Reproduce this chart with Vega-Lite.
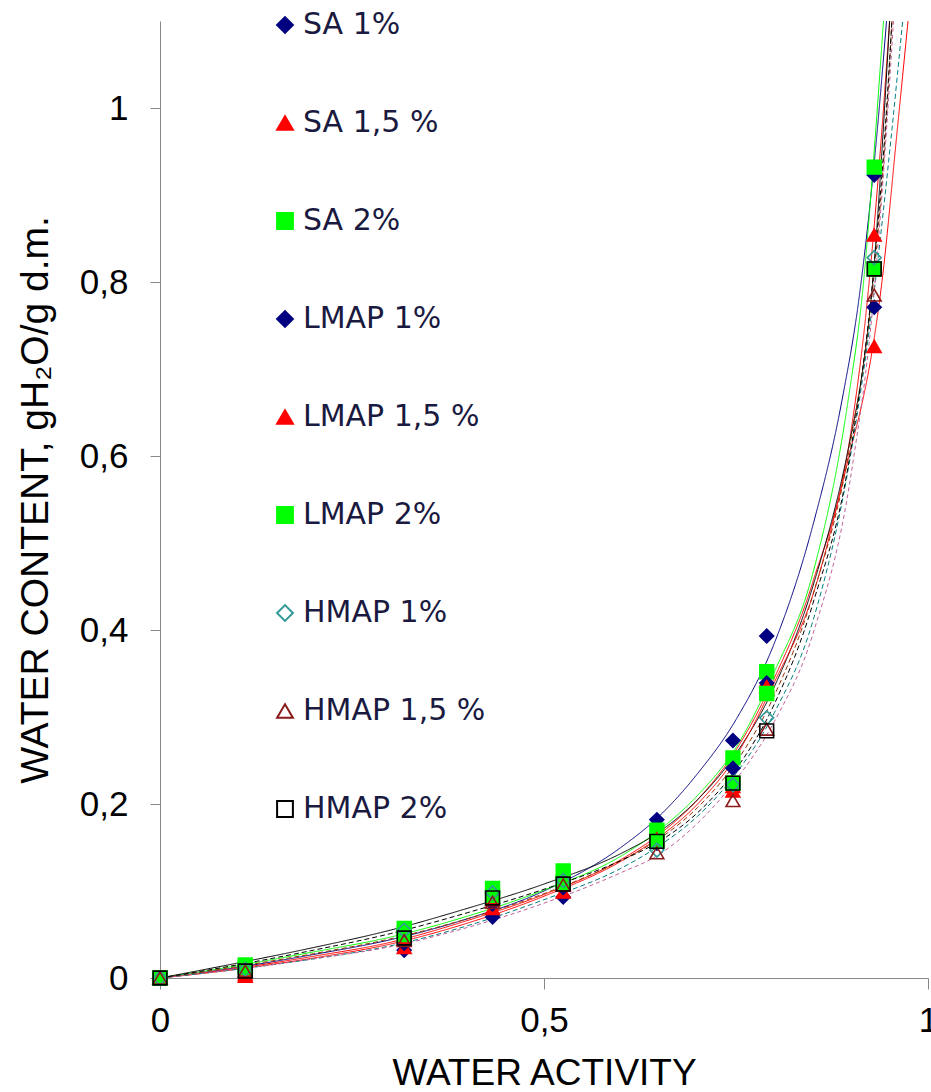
{
  "$schema": "https://vega.github.io/schema/vega-lite/v6.json",
  "width": 768,
  "height": 957,
  "autosize": {"type": "none"},
  "padding": {"left": 160, "top": 21, "right": 3, "bottom": 114},
  "background": "white",
  "config": {
    "view": {"stroke": null},
    "axis": {
      "grid": false,
      "domainColor": "#888888",
      "tickColor": "#888888",
      "labelFont": "Liberation Sans",
      "labelColor": "#000000",
      "titleFont": "Liberation Sans",
      "titleColor": "#000000",
      "titleFontWeight": "normal",
      "labelOverlap": false,
      "labelBound": false,
      "labelFlush": false
    },
    "legend": {
      "labelFont": "DejaVu Sans", "labelFontSize": 30, "labelColor": "#1a1a40",
      "rowPadding": 68, "symbolSize": 250, "symbolStrokeWidth": 2,
      "labelOffset": 3, "padding": 0, "labelLimit": 400
    }
  },
  "datasets": {
    "points": [
      {"series": "SA 1%", "aw": 0, "wc": 0},
      {"series": "SA 1%", "aw": 0.111, "wc": 0.008},
      {"series": "SA 1%", "aw": 0.318, "wc": 0.032},
      {"series": "SA 1%", "aw": 0.433, "wc": 0.070},
      {"series": "SA 1%", "aw": 0.525, "wc": 0.093},
      {"series": "SA 1%", "aw": 0.647, "wc": 0.182},
      {"series": "SA 1%", "aw": 0.746, "wc": 0.273},
      {"series": "SA 1%", "aw": 0.79, "wc": 0.393},
      {"series": "SA 1%", "aw": 0.93, "wc": 0.923},
      {"series": "SA 1,5 %", "aw": 0, "wc": 0},
      {"series": "SA 1,5 %", "aw": 0.111, "wc": 0.002},
      {"series": "SA 1,5 %", "aw": 0.318, "wc": 0.035},
      {"series": "SA 1,5 %", "aw": 0.433, "wc": 0.080},
      {"series": "SA 1,5 %", "aw": 0.525, "wc": 0.099},
      {"series": "SA 1,5 %", "aw": 0.647, "wc": 0.168},
      {"series": "SA 1,5 %", "aw": 0.746, "wc": 0.220},
      {"series": "SA 1,5 %", "aw": 0.79, "wc": 0.342},
      {"series": "SA 1,5 %", "aw": 0.93, "wc": 0.854},
      {"series": "SA 2%", "aw": 0, "wc": 0},
      {"series": "SA 2%", "aw": 0.111, "wc": 0.015},
      {"series": "SA 2%", "aw": 0.318, "wc": 0.057},
      {"series": "SA 2%", "aw": 0.433, "wc": 0.103},
      {"series": "SA 2%", "aw": 0.525, "wc": 0.123},
      {"series": "SA 2%", "aw": 0.647, "wc": 0.170},
      {"series": "SA 2%", "aw": 0.746, "wc": 0.253},
      {"series": "SA 2%", "aw": 0.79, "wc": 0.352},
      {"series": "SA 2%", "aw": 0.93, "wc": 0.932},
      {"series": "LMAP 1%", "aw": 0, "wc": 0},
      {"series": "LMAP 1%", "aw": 0.111, "wc": 0.006},
      {"series": "LMAP 1%", "aw": 0.318, "wc": 0.040},
      {"series": "LMAP 1%", "aw": 0.433, "wc": 0.085},
      {"series": "LMAP 1%", "aw": 0.525, "wc": 0.104},
      {"series": "LMAP 1%", "aw": 0.647, "wc": 0.155},
      {"series": "LMAP 1%", "aw": 0.746, "wc": 0.241},
      {"series": "LMAP 1%", "aw": 0.79, "wc": 0.339},
      {"series": "LMAP 1%", "aw": 0.93, "wc": 0.771},
      {"series": "LMAP 1,5 %", "aw": 0, "wc": 0},
      {"series": "LMAP 1,5 %", "aw": 0.111, "wc": 0.004},
      {"series": "LMAP 1,5 %", "aw": 0.318, "wc": 0.045},
      {"series": "LMAP 1,5 %", "aw": 0.433, "wc": 0.090},
      {"series": "LMAP 1,5 %", "aw": 0.525, "wc": 0.108},
      {"series": "LMAP 1,5 %", "aw": 0.647, "wc": 0.160},
      {"series": "LMAP 1,5 %", "aw": 0.746, "wc": 0.215},
      {"series": "LMAP 1,5 %", "aw": 0.79, "wc": 0.335},
      {"series": "LMAP 1,5 %", "aw": 0.93, "wc": 0.726},
      {"series": "LMAP 2%", "aw": 0, "wc": 0},
      {"series": "LMAP 2%", "aw": 0.111, "wc": 0.012},
      {"series": "LMAP 2%", "aw": 0.318, "wc": 0.050},
      {"series": "LMAP 2%", "aw": 0.433, "wc": 0.095},
      {"series": "LMAP 2%", "aw": 0.525, "wc": 0.110},
      {"series": "LMAP 2%", "aw": 0.647, "wc": 0.157},
      {"series": "LMAP 2%", "aw": 0.746, "wc": 0.224},
      {"series": "LMAP 2%", "aw": 0.79, "wc": 0.327},
      {"series": "LMAP 2%", "aw": 0.93, "wc": 0.815},
      {"series": "HMAP 1%", "aw": 0, "wc": 0},
      {"series": "HMAP 1%", "aw": 0.111, "wc": 0.010},
      {"series": "HMAP 1%", "aw": 0.318, "wc": 0.055},
      {"series": "HMAP 1%", "aw": 0.433, "wc": 0.098},
      {"series": "HMAP 1%", "aw": 0.525, "wc": 0.112},
      {"series": "HMAP 1%", "aw": 0.647, "wc": 0.147},
      {"series": "HMAP 1%", "aw": 0.746, "wc": 0.222},
      {"series": "HMAP 1%", "aw": 0.79, "wc": 0.299},
      {"series": "HMAP 1%", "aw": 0.93, "wc": 0.828},
      {"series": "HMAP 1,5 %", "aw": 0, "wc": 0},
      {"series": "HMAP 1,5 %", "aw": 0.111, "wc": 0.008},
      {"series": "HMAP 1,5 %", "aw": 0.318, "wc": 0.043},
      {"series": "HMAP 1,5 %", "aw": 0.433, "wc": 0.087},
      {"series": "HMAP 1,5 %", "aw": 0.525, "wc": 0.107},
      {"series": "HMAP 1,5 %", "aw": 0.647, "wc": 0.144},
      {"series": "HMAP 1,5 %", "aw": 0.746, "wc": 0.204},
      {"series": "HMAP 1,5 %", "aw": 0.79, "wc": 0.286},
      {"series": "HMAP 1,5 %", "aw": 0.93, "wc": 0.785},
      {"series": "HMAP 2%", "aw": 0, "wc": 0},
      {"series": "HMAP 2%", "aw": 0.111, "wc": 0.008},
      {"series": "HMAP 2%", "aw": 0.318, "wc": 0.046},
      {"series": "HMAP 2%", "aw": 0.433, "wc": 0.092},
      {"series": "HMAP 2%", "aw": 0.525, "wc": 0.108},
      {"series": "HMAP 2%", "aw": 0.647, "wc": 0.157},
      {"series": "HMAP 2%", "aw": 0.746, "wc": 0.224},
      {"series": "HMAP 2%", "aw": 0.79, "wc": 0.284},
      {"series": "HMAP 2%", "aw": 0.93, "wc": 0.815}
    ],
    "curves": [
      {"curve": "fit SA 1%", "aw": 0, "wc": 0},
      {"curve": "fit SA 1%", "aw": 0.1, "wc": 0.012},
      {"curve": "fit SA 1%", "aw": 0.2, "wc": 0.027},
      {"curve": "fit SA 1%", "aw": 0.3, "wc": 0.044},
      {"curve": "fit SA 1%", "aw": 0.4, "wc": 0.068},
      {"curve": "fit SA 1%", "aw": 0.5, "wc": 0.100},
      {"curve": "fit SA 1%", "aw": 0.6, "wc": 0.150},
      {"curve": "fit SA 1%", "aw": 0.65, "wc": 0.186},
      {"curve": "fit SA 1%", "aw": 0.7, "wc": 0.235},
      {"curve": "fit SA 1%", "aw": 0.75, "wc": 0.297},
      {"curve": "fit SA 1%", "aw": 0.8, "wc": 0.385},
      {"curve": "fit SA 1%", "aw": 0.85, "wc": 0.52},
      {"curve": "fit SA 1%", "aw": 0.888, "wc": 0.664},
      {"curve": "fit SA 1%", "aw": 0.91, "wc": 0.78},
      {"curve": "fit SA 1%", "aw": 0.934, "wc": 0.975},
      {"curve": "fit SA 1%", "aw": 0.946, "wc": 1.1},
      {"curve": "fit SA 1,5 %", "aw": 0, "wc": 0},
      {"curve": "fit SA 1,5 %", "aw": 0.1, "wc": 0.011},
      {"curve": "fit SA 1,5 %", "aw": 0.2, "wc": 0.025},
      {"curve": "fit SA 1,5 %", "aw": 0.3, "wc": 0.041},
      {"curve": "fit SA 1,5 %", "aw": 0.4, "wc": 0.066},
      {"curve": "fit SA 1,5 %", "aw": 0.5, "wc": 0.096},
      {"curve": "fit SA 1,5 %", "aw": 0.6, "wc": 0.136},
      {"curve": "fit SA 1,5 %", "aw": 0.65, "wc": 0.165},
      {"curve": "fit SA 1,5 %", "aw": 0.7, "wc": 0.205},
      {"curve": "fit SA 1,5 %", "aw": 0.75, "wc": 0.262},
      {"curve": "fit SA 1,5 %", "aw": 0.8, "wc": 0.345},
      {"curve": "fit SA 1,5 %", "aw": 0.85, "wc": 0.455},
      {"curve": "fit SA 1,5 %", "aw": 0.9, "wc": 0.63},
      {"curve": "fit SA 1,5 %", "aw": 0.92, "wc": 0.77},
      {"curve": "fit SA 1,5 %", "aw": 0.94, "wc": 0.975},
      {"curve": "fit SA 1,5 %", "aw": 0.95, "wc": 1.1},
      {"curve": "fit SA 2%", "aw": 0, "wc": 0},
      {"curve": "fit SA 2%", "aw": 0.1, "wc": 0.014},
      {"curve": "fit SA 2%", "aw": 0.2, "wc": 0.030},
      {"curve": "fit SA 2%", "aw": 0.3, "wc": 0.047},
      {"curve": "fit SA 2%", "aw": 0.4, "wc": 0.071},
      {"curve": "fit SA 2%", "aw": 0.5, "wc": 0.101},
      {"curve": "fit SA 2%", "aw": 0.6, "wc": 0.140},
      {"curve": "fit SA 2%", "aw": 0.65, "wc": 0.170},
      {"curve": "fit SA 2%", "aw": 0.7, "wc": 0.210},
      {"curve": "fit SA 2%", "aw": 0.75, "wc": 0.265},
      {"curve": "fit SA 2%", "aw": 0.8, "wc": 0.352},
      {"curve": "fit SA 2%", "aw": 0.85, "wc": 0.465},
      {"curve": "fit SA 2%", "aw": 0.896, "wc": 0.664},
      {"curve": "fit SA 2%", "aw": 0.915, "wc": 0.79},
      {"curve": "fit SA 2%", "aw": 0.932, "wc": 0.975},
      {"curve": "fit SA 2%", "aw": 0.942, "wc": 1.1},
      {"curve": "fit LMAP 1%", "aw": 0, "wc": 0},
      {"curve": "fit LMAP 1%", "aw": 0.1, "wc": 0.017},
      {"curve": "fit LMAP 1%", "aw": 0.2, "wc": 0.035},
      {"curve": "fit LMAP 1%", "aw": 0.3, "wc": 0.055},
      {"curve": "fit LMAP 1%", "aw": 0.4, "wc": 0.080},
      {"curve": "fit LMAP 1%", "aw": 0.5, "wc": 0.108},
      {"curve": "fit LMAP 1%", "aw": 0.6, "wc": 0.143},
      {"curve": "fit LMAP 1%", "aw": 0.65, "wc": 0.168},
      {"curve": "fit LMAP 1%", "aw": 0.7, "wc": 0.205},
      {"curve": "fit LMAP 1%", "aw": 0.75, "wc": 0.258},
      {"curve": "fit LMAP 1%", "aw": 0.8, "wc": 0.335},
      {"curve": "fit LMAP 1%", "aw": 0.85, "wc": 0.45},
      {"curve": "fit LMAP 1%", "aw": 0.9, "wc": 0.625},
      {"curve": "fit LMAP 1%", "aw": 0.915, "wc": 0.699},
      {"curve": "fit LMAP 1%", "aw": 0.928, "wc": 0.80},
      {"curve": "fit LMAP 1%", "aw": 0.94, "wc": 0.95},
      {"curve": "fit LMAP 1%", "aw": 0.95, "wc": 1.1},
      {"curve": "fit LMAP 1,5 %", "aw": 0, "wc": 0},
      {"curve": "fit LMAP 1,5 %", "aw": 0.1, "wc": 0.010},
      {"curve": "fit LMAP 1,5 %", "aw": 0.2, "wc": 0.023},
      {"curve": "fit LMAP 1,5 %", "aw": 0.3, "wc": 0.039},
      {"curve": "fit LMAP 1,5 %", "aw": 0.4, "wc": 0.063},
      {"curve": "fit LMAP 1,5 %", "aw": 0.5, "wc": 0.094},
      {"curve": "fit LMAP 1,5 %", "aw": 0.6, "wc": 0.134},
      {"curve": "fit LMAP 1,5 %", "aw": 0.65, "wc": 0.162},
      {"curve": "fit LMAP 1,5 %", "aw": 0.7, "wc": 0.200},
      {"curve": "fit LMAP 1,5 %", "aw": 0.75, "wc": 0.255},
      {"curve": "fit LMAP 1,5 %", "aw": 0.8, "wc": 0.34},
      {"curve": "fit LMAP 1,5 %", "aw": 0.85, "wc": 0.44},
      {"curve": "fit LMAP 1,5 %", "aw": 0.9, "wc": 0.61},
      {"curve": "fit LMAP 1,5 %", "aw": 0.915, "wc": 0.664},
      {"curve": "fit LMAP 1,5 %", "aw": 0.923, "wc": 0.699},
      {"curve": "fit LMAP 1,5 %", "aw": 0.94, "wc": 0.80},
      {"curve": "fit LMAP 1,5 %", "aw": 0.96, "wc": 0.975},
      {"curve": "fit LMAP 1,5 %", "aw": 0.974, "wc": 1.1},
      {"curve": "fit LMAP 2%", "aw": 0, "wc": 0},
      {"curve": "fit LMAP 2%", "aw": 0.1, "wc": 0.013},
      {"curve": "fit LMAP 2%", "aw": 0.2, "wc": 0.028},
      {"curve": "fit LMAP 2%", "aw": 0.3, "wc": 0.045},
      {"curve": "fit LMAP 2%", "aw": 0.4, "wc": 0.068},
      {"curve": "fit LMAP 2%", "aw": 0.5, "wc": 0.097},
      {"curve": "fit LMAP 2%", "aw": 0.6, "wc": 0.135},
      {"curve": "fit LMAP 2%", "aw": 0.65, "wc": 0.160},
      {"curve": "fit LMAP 2%", "aw": 0.7, "wc": 0.196},
      {"curve": "fit LMAP 2%", "aw": 0.75, "wc": 0.248},
      {"curve": "fit LMAP 2%", "aw": 0.8, "wc": 0.325},
      {"curve": "fit LMAP 2%", "aw": 0.85, "wc": 0.44},
      {"curve": "fit LMAP 2%", "aw": 0.9, "wc": 0.62},
      {"curve": "fit LMAP 2%", "aw": 0.93, "wc": 0.81},
      {"curve": "fit LMAP 2%", "aw": 0.945, "wc": 0.975},
      {"curve": "fit LMAP 2%", "aw": 0.953, "wc": 1.1},
      {"curve": "fit HMAP 1%", "aw": 0, "wc": 0},
      {"curve": "fit HMAP 1%", "aw": 0.1, "wc": 0.010},
      {"curve": "fit HMAP 1%", "aw": 0.2, "wc": 0.022},
      {"curve": "fit HMAP 1%", "aw": 0.3, "wc": 0.037},
      {"curve": "fit HMAP 1%", "aw": 0.4, "wc": 0.060},
      {"curve": "fit HMAP 1%", "aw": 0.5, "wc": 0.090},
      {"curve": "fit HMAP 1%", "aw": 0.6, "wc": 0.126},
      {"curve": "fit HMAP 1%", "aw": 0.65, "wc": 0.152},
      {"curve": "fit HMAP 1%", "aw": 0.7, "wc": 0.186},
      {"curve": "fit HMAP 1%", "aw": 0.75, "wc": 0.235},
      {"curve": "fit HMAP 1%", "aw": 0.8, "wc": 0.305},
      {"curve": "fit HMAP 1%", "aw": 0.85, "wc": 0.41},
      {"curve": "fit HMAP 1%", "aw": 0.9, "wc": 0.605},
      {"curve": "fit HMAP 1%", "aw": 0.93, "wc": 0.79},
      {"curve": "fit HMAP 1%", "aw": 0.953, "wc": 0.975},
      {"curve": "fit HMAP 1%", "aw": 0.967, "wc": 1.1},
      {"curve": "fit HMAP 1,5 %", "aw": 0, "wc": 0},
      {"curve": "fit HMAP 1,5 %", "aw": 0.1, "wc": 0.010},
      {"curve": "fit HMAP 1,5 %", "aw": 0.2, "wc": 0.022},
      {"curve": "fit HMAP 1,5 %", "aw": 0.3, "wc": 0.036},
      {"curve": "fit HMAP 1,5 %", "aw": 0.4, "wc": 0.058},
      {"curve": "fit HMAP 1,5 %", "aw": 0.5, "wc": 0.086},
      {"curve": "fit HMAP 1,5 %", "aw": 0.6, "wc": 0.121},
      {"curve": "fit HMAP 1,5 %", "aw": 0.65, "wc": 0.142},
      {"curve": "fit HMAP 1,5 %", "aw": 0.7, "wc": 0.178},
      {"curve": "fit HMAP 1,5 %", "aw": 0.75, "wc": 0.228},
      {"curve": "fit HMAP 1,5 %", "aw": 0.8, "wc": 0.295},
      {"curve": "fit HMAP 1,5 %", "aw": 0.85, "wc": 0.395},
      {"curve": "fit HMAP 1,5 %", "aw": 0.9, "wc": 0.58},
      {"curve": "fit HMAP 1,5 %", "aw": 0.93, "wc": 0.79},
      {"curve": "fit HMAP 1,5 %", "aw": 0.946, "wc": 0.975},
      {"curve": "fit HMAP 1,5 %", "aw": 0.955, "wc": 1.1},
      {"curve": "fit HMAP 2%", "aw": 0, "wc": 0},
      {"curve": "fit HMAP 2%", "aw": 0.1, "wc": 0.015},
      {"curve": "fit HMAP 2%", "aw": 0.2, "wc": 0.032},
      {"curve": "fit HMAP 2%", "aw": 0.3, "wc": 0.051},
      {"curve": "fit HMAP 2%", "aw": 0.4, "wc": 0.075},
      {"curve": "fit HMAP 2%", "aw": 0.5, "wc": 0.102},
      {"curve": "fit HMAP 2%", "aw": 0.6, "wc": 0.135},
      {"curve": "fit HMAP 2%", "aw": 0.65, "wc": 0.157},
      {"curve": "fit HMAP 2%", "aw": 0.7, "wc": 0.190},
      {"curve": "fit HMAP 2%", "aw": 0.75, "wc": 0.240},
      {"curve": "fit HMAP 2%", "aw": 0.8, "wc": 0.315},
      {"curve": "fit HMAP 2%", "aw": 0.85, "wc": 0.43},
      {"curve": "fit HMAP 2%", "aw": 0.9, "wc": 0.61},
      {"curve": "fit HMAP 2%", "aw": 0.93, "wc": 0.82},
      {"curve": "fit HMAP 2%", "aw": 0.945, "wc": 0.985},
      {"curve": "fit HMAP 2%", "aw": 0.953, "wc": 1.1}
    ]
  },
  "layer": [
    {
      "data": {"name": "curves"},
      "mark": {"type": "line", "strokeWidth": 1, "clip": true, "interpolate": "monotone"},
      "encoding": {
        "x": {
          "field": "aw", "type": "quantitative",
          "scale": {"domain": [0, 1], "nice": false, "zero": false},
          "axis": {
            "title": "WATER ACTIVITY",
            "values": [0, 0.5, 1],
            "labelExpr": "replace(format(datum.value, '~g'), '.', ',')",
            "tickSize": 11,
            "labelFontSize": 35,
            "labelPadding": 14,
            "titleFontSize": 37,
            "titlePadding": 17
          }
        },
        "y": {
          "field": "wc", "type": "quantitative",
          "scale": {"domain": [0, 1.1], "nice": false, "zero": false},
          "axis": {
            "title": "WATER CONTENT, gH₂O/g d.m.",
            "values": [0, 0.2, 0.4, 0.6, 0.8, 1],
            "labelExpr": "replace(format(datum.value, '~g'), '.', ',')",
            "tickSize": 10,
            "labelFontSize": 35,
            "labelPadding": 22,
            "titleFontSize": 39,
            "titlePadding": 24
          }
        },
        "color": {
          "field": "curve", "type": "nominal", "legend": null,
          "scale": {
            "domain": ["fit SA 1%", "fit SA 1,5 %", "fit SA 2%", "fit LMAP 1%", "fit LMAP 1,5 %", "fit LMAP 2%", "fit HMAP 1%", "fit HMAP 1,5 %", "fit HMAP 2%"],
            "range": ["#000080", "#ff0000", "#00ff00", "#000000", "#ff0000", "#993300", "#008080", "#c0609a", "#000000"]
          }
        },
        "strokeDash": {
          "field": "curve", "type": "nominal", "legend": null,
          "scale": {
            "domain": ["fit SA 1%", "fit SA 1,5 %", "fit SA 2%", "fit LMAP 1%", "fit LMAP 1,5 %", "fit LMAP 2%", "fit HMAP 1%", "fit HMAP 1,5 %", "fit HMAP 2%"],
            "range": [[1, 0], [1, 0], [1, 0], [1, 0], [1, 0], [5, 3], [5, 3], [4, 3], [5, 3]]
          }
        }
      }
    },
    {
      "data": {"name": "points"},
      "mark": {"type": "point", "size": 190, "strokeWidth": 1.6, "opacity": 1},
      "encoding": {
        "x": {"field": "aw", "type": "quantitative"},
        "y": {"field": "wc", "type": "quantitative"},
        "shape": {
          "field": "series", "type": "nominal",
          "scale": {
            "domain": ["SA 1%", "SA 1,5 %", "SA 2%", "LMAP 1%", "LMAP 1,5 %", "LMAP 2%", "HMAP 1%", "HMAP 1,5 %", "HMAP 2%"],
            "range": ["diamond", "triangle-up", "square", "diamond", "triangle-up", "square", "diamond", "triangle-up", "square"]
          },
          "legend": {"orient": "none", "legendX": 110, "legendY": -11, "title": null}
        },
        "fill": {
          "field": "series", "type": "nominal",
          "scale": {
            "domain": ["SA 1%", "SA 1,5 %", "SA 2%", "LMAP 1%", "LMAP 1,5 %", "LMAP 2%", "HMAP 1%", "HMAP 1,5 %", "HMAP 2%"],
            "range": ["#000080", "#ff0000", "#00ff00", "#000080", "#ff0000", "#00ff00", "transparent", "transparent", "transparent"]
          },
          "legend": {"orient": "none", "legendX": 110, "legendY": -11, "title": null}
        },
        "stroke": {
          "field": "series", "type": "nominal",
          "scale": {
            "domain": ["SA 1%", "SA 1,5 %", "SA 2%", "LMAP 1%", "LMAP 1,5 %", "LMAP 2%", "HMAP 1%", "HMAP 1,5 %", "HMAP 2%"],
            "range": ["#000080", "#ff0000", "#00ff00", "#000080", "#ff0000", "#00ff00", "#339999", "#8b1a1a", "#000000"]
          },
          "legend": {"orient": "none", "legendX": 110, "legendY": -11, "title": null}
        }
      }
    }
  ]
}
